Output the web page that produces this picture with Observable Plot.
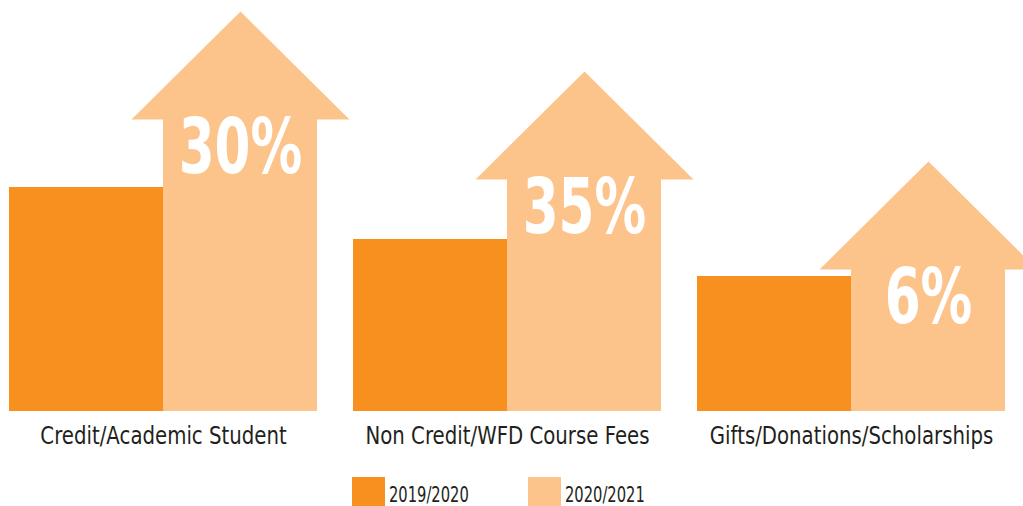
<!DOCTYPE html>
<html>
<head>
<meta charset="utf-8">
<script src="https://cdn.jsdelivr.net/npm/d3@7"></script>
<script src="https://cdn.jsdelivr.net/npm/@observablehq/plot@0.6"></script>
<style>
  html, body { margin: 0; padding: 0; background: #fff; overflow: hidden; }
  #wrap { position: relative; width: 1023px; height: 506px; overflow: hidden; }
  #chart svg { overflow: hidden; display: block; }
  #legend { position: absolute; left: 352px; top: 477px; display: flex; font-family: "DejaVu Sans", sans-serif; font-size: 21px; color: #231F20; }
  .item { display: flex; align-items: flex-start; width: 176px; }
  .sw { width: 33px; height: 33px; margin-right: 4px; flex: none; }
  .lb { line-height: 1; padding-top: 8px; transform: scaleX(0.70); transform-origin: 0 0; white-space: nowrap; }
</style>
</head>
<body>
<div id="wrap">
  <div id="chart"></div>
  <div id="legend"></div>
</div>
<script>
const categories = ["Credit/Academic Student", "Non Credit/WFD Course Fees", "Gifts/Donations/Scholarships"];
const years = ["2019/2020", "2020/2021"];
const values2019 = [224, 172, 135];
const values2020 = [292, 232, 142];
const pctLabels = ["30%", "35%", "6%"];
const colors = ["#F7901E", "#FCC38B"];

const FONT = '"DejaVu Sans", sans-serif';

const data = [];
categories.forEach((c, i) => {
  data.push({category: c, year: years[0], value: values2019[i], pct: null});
  data.push({category: c, year: years[1], value: values2020[i], pct: pctLabels[i]});
});
const newer = data.filter(d => d.year === years[1]);

// Arrow head drawn as a custom symbol: base centred on the point, apex above.
const arrowHead = {
  draw(context, size) {
    const r = Math.sqrt(size / Math.PI);
    context.moveTo(-r, 0);
    context.lineTo(0, -r * 0.99);
    context.lineTo(r, 0);
    context.closePath();
  }
};

const chart = Plot.plot({
  width: 1023,
  height: 460,
  marginTop: 11,
  marginBottom: 49,
  marginLeft: 9,
  marginRight: 18,
  style: {fontFamily: FONT, background: "transparent", overflow: "hidden"},
  fx: {domain: categories, paddingInner: 0.1047, paddingOuter: 0},
  x: {domain: years, padding: 0, axis: null},
  y: {domain: [0, 400], axis: null},
  color: {domain: years, range: colors},
  marks: [
    Plot.barY(data, {fx: "category", x: "year", y: "value", fill: "year", inset: 0}),
    Plot.dot(newer, {fx: "category", x: "year", y: "value", r: 109, symbol: arrowHead, fill: "year", stroke: null}),
    Plot.text(newer, {fx: "category", x: "year", y: "value", text: "pct", fill: "white", fontSize: 76, fontWeight: "bold", lineAnchor: "top", dy: 0, fontFamily: FONT}),
    Plot.axisFx({anchor: "bottom", tickSize: 0, tickPadding: 15, fontSize: 25, label: null, color: "#231F20"})
  ]
});
document.getElementById("chart").appendChild(chart);

// Condense glyphs horizontally about each text's centre (the original uses a condensed typeface)
function condense(selector, factor) {
  chart.querySelectorAll(selector).forEach(t => {
    const b = t.getBBox();
    const cx = b.x + b.width / 2;
    const prev = t.getAttribute("transform") || "";
    t.setAttribute("transform", `${prev} translate(${cx},0) scale(${factor},1) translate(${-cx},0)`.trim());
  });
}
condense('g[aria-label="text"] text', 0.68);
condense('g[aria-label="fx-axis tick label"] text', 0.79);

const legend = document.getElementById("legend");
years.forEach((y, i) => {
  const item = document.createElement("div");
  item.className = "item";
  const sw = document.createElement("div");
  sw.className = "sw";
  sw.style.background = colors[i];
  const lb = document.createElement("div");
  lb.className = "lb";
  lb.textContent = y;
  item.appendChild(sw);
  item.appendChild(lb);
  legend.appendChild(item);
});
</script>
</body>
</html>
